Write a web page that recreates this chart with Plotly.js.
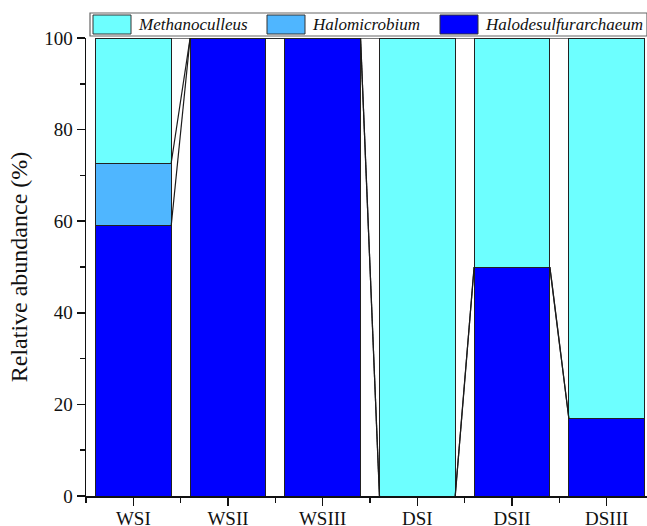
<!DOCTYPE html>
<html>
<head>
<meta charset="utf-8">
<script src="https://cdn.plot.ly/plotly-3.0.1.min.js"></script>
<style>
  html, body { margin: 0; padding: 0; overflow: hidden; background: #fff; }
  #chart { width: 660px; height: 526px; }
</style>
</head>
<body>
<div id="chart"></div>
<script>
// Samples (x categories) and relative abundance (%) of each genus
const samples = ['WSI', 'WSII', 'WSIII', 'DSI', 'DSII', 'DSIII'];
const halodesulfurarchaeum = [59, 100, 100, 0, 50, 17];
const halomicrobium = [13.7, 0, 0, 0, 0, 0];
const methanoculleus = [27.3, 0, 0, 100, 50, 83];

const yTicks = [0, 20, 40, 60, 80, 100];

// Stack order, bottom to top
const series = [
  { name: 'Halodesulfurarchaeum', values: halodesulfurarchaeum, color: '#0000FF' },
  { name: 'Halomicrobium', values: halomicrobium, color: '#4FB6FF' },
  { name: 'Methanoculleus', values: methanoculleus, color: '#6DFFFF' }
];

const FONT = 'Liberation Serif';
const BAR_W = 0.8;
const xs = samples.map((_, i) => i);

const traces = [];
series.forEach(s => {
  traces.push({
    type: 'bar',
    x: xs,
    y: s.values,
    name: s.name,
    width: BAR_W,
    marker: { color: s.color, line: { color: '#222', width: 1 } },
    showlegend: false,
    hoverinfo: 'skip'
  });
});

// Connecting lines between the top of each stack level of neighbouring bars
let cum = samples.map(() => 0);
series.forEach(s => {
  cum = cum.map((c, i) => c + s.values[i]);
  const lx = [], ly = [];
  for (let i = 0; i < samples.length - 1; i++) {
    lx.push(i + BAR_W / 2, i + 1 - BAR_W / 2, null);
    ly.push(cum[i], cum[i + 1], null);
  }
  traces.push({
    type: 'scatter', mode: 'lines', x: lx, y: ly,
    line: { color: '#1a1a1a', width: 1.2 },
    showlegend: false, hoverinfo: 'skip', cliponaxis: false
  });
});

// Plot area geometry (pixels) used for placing the framed legend
const W = 660, H = 526;
const M = { l: 86, r: 6, t: 38, b: 30 };
const pw = W - M.l - M.r, ph = H - M.t - M.b;
const px = v => (v - M.l) / pw;
const py = v => (H - M.b - v) / ph;

const shapes = [
  { type: 'rect', xref: 'paper', yref: 'paper',
    x0: px(90), x1: px(647), y0: py(36), y1: py(13),
    line: { color: '#666', width: 1.2 }, fillcolor: '#fff', layer: 'above' }
];
const annotations = [];
// legend order: left to right, top of stack first
const legendItems = [series[2], series[1], series[0]];
const swatchX = [93, 267, 440];
legendItems.forEach((s, k) => {
  shapes.push({ type: 'rect', xref: 'paper', yref: 'paper',
    x0: px(swatchX[k]), x1: px(swatchX[k] + 38), y0: py(34), y1: py(15),
    line: { color: '#333', width: 1 }, fillcolor: s.color, layer: 'above' });
  annotations.push({ xref: 'paper', yref: 'paper',
    x: px(swatchX[k] + 43), y: py(24.5), xanchor: 'left', yanchor: 'middle',
    text: '<i>' + s.name + '</i>', showarrow: false,
    font: { family: FONT, size: 17, color: '#111' } });
});

const layout = {
  width: W, height: H,
  margin: M,
  barmode: 'stack',
  paper_bgcolor: '#fff', plot_bgcolor: '#fff',
  font: { family: FONT, color: '#111' },
  xaxis: {
    range: [-0.5, samples.length - 0.5],
    tickmode: 'array', tickvals: xs, ticktext: samples,
    ticks: 'outside', ticklen: 8, tickwidth: 1.5, tickcolor: '#111',
    ticklabelstandoff: -3,
    minor: { ticks: 'outside', ticklen: 5, tickwidth: 1.5, tickcolor: '#111', tick0: 0.5, dtick: 1 },
    showline: true, linecolor: '#111', linewidth: 1.5,
    showgrid: false, zeroline: false,
    tickfont: { family: FONT, size: 19, color: '#111' }
  },
  yaxis: {
    range: [0, 100],
    tickmode: 'array', tickvals: yTicks,
    ticks: 'outside', ticklen: 8, tickwidth: 1.5, tickcolor: '#111',
    minor: { ticks: 'outside', ticklen: 5, tickwidth: 1.5, tickcolor: '#111', dtick: 10 },
    showline: true, linecolor: '#111', linewidth: 1.5,
    showgrid: false, zeroline: false,
    tickfont: { family: FONT, size: 19, color: '#111' },
    title: { text: 'Relative abundance (%)', font: { family: FONT, size: 24, color: '#111' }, standoff: 10 }
  },
  shapes: shapes,
  annotations: annotations
};

Plotly.newPlot('chart', traces, layout, { displayModeBar: false, staticPlot: true });
</script>
</body>
</html>
